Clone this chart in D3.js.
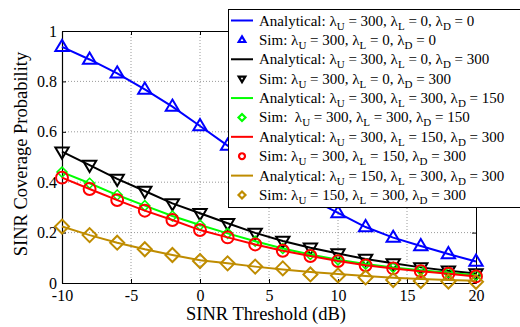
<!DOCTYPE html>
<html>
<head>
<meta charset="utf-8">
<script src="https://cdn.jsdelivr.net/npm/d3@7"></script>
<style>
  body { margin: 0; background: #fff; }
  #chart text { font-family: "Liberation Serif", "Times New Roman", serif; }
</style>
</head>
<body>
<svg id="chart" width="520" height="327"></svg>
<script>
// SINR threshold (dB)
var thresholds = [-10, -8, -6, -4, -2, 0, 2, 4, 6, 8, 10, 12, 14, 16, 18, 20];

// coverage probability per scenario (analytical curve + sim markers)
var blueVals  = [0.937, 0.887, 0.832, 0.768, 0.700, 0.623, 0.545, 0.470, 0.400, 0.335, 0.278, 0.222, 0.180, 0.147, 0.115, 0.085];
var blackVals = [0.521, 0.468, 0.413, 0.365, 0.316, 0.277, 0.237, 0.199, 0.167, 0.140, 0.117, 0.095, 0.078, 0.062, 0.049, 0.038];
var greenVals = [0.440, 0.396, 0.349, 0.307, 0.266, 0.230, 0.197, 0.166, 0.137, 0.113, 0.092, 0.075, 0.062, 0.051, 0.041, 0.031];
var redVals   = [0.418, 0.373, 0.329, 0.287, 0.250, 0.210, 0.181, 0.153, 0.128, 0.107, 0.087, 0.070, 0.058, 0.047, 0.037, 0.026];
var brownVals = [0.224, 0.190, 0.160, 0.134, 0.111, 0.090, 0.078, 0.065, 0.054, 0.044, 0.036, 0.028, 0.021, 0.016, 0.012, 0.009];
var brownSim  = [0.224, 0.190, 0.160, 0.134, 0.111, 0.087, 0.078, 0.065, 0.058, 0.034, 0.030, 0.022, 0.012, 0.008, 0.006, 0.005];

var xTicks = [-10, -5, 0, 5, 10, 15, 20];
var yTicks = [0, 0.2, 0.4, 0.6, 0.8, 1];

var series = [
  {color: "#0000ff", vals: blueVals,  sim: blueVals,  marker: "tri",  lam: ["300", "0", "0"],     simLam: ["300", "0", "0"]},
  {color: "#000000", vals: blackVals, sim: blackVals, marker: "itri", lam: ["300", "0", "300"],   simLam: ["300", "0", "300"]},
  {color: "#00ff00", vals: greenVals, sim: greenVals, marker: "dia",  lam: ["300", "300", "150"], simLam: ["300", "300", "150"], simPrefix: "Sim:  "},
  {color: "#ff0000", vals: redVals,   sim: redVals,   marker: "circ", lam: ["300", "150", "300"], simLam: ["300", "150", "300"]},
  {color: "#bf8c00", vals: brownVals, sim: brownSim,  marker: "bdia", lam: ["150", "300", "300"], simLam: ["150", "300", "300"]}
];

var FONT = "Liberation Serif";
var svg = d3.select("#chart");
var m = {left: 62, right: 476, top: 31, bottom: 283};

var x = d3.scaleLinear().domain([-10, 20]).range([m.left, m.right]);
var y = d3.scaleLinear().domain([0, 1]).range([m.bottom, m.top]);

// grid
svg.append("g")
  .selectAll("line")
  .data(xTicks.slice(1, -1))
  .join("line")
    .attr("x1", d => x(d)).attr("x2", d => x(d))
    .attr("y1", m.top).attr("y2", m.bottom)
    .attr("stroke", "#808080").attr("stroke-width", 0.8).attr("stroke-dasharray", "1,2");
svg.append("g")
  .selectAll("line")
  .data(yTicks.slice(1, -1))
  .join("line")
    .attr("x1", m.left).attr("x2", m.right)
    .attr("y1", d => y(d)).attr("y2", d => y(d))
    .attr("stroke", "#808080").attr("stroke-width", 0.8).attr("stroke-dasharray", "1,2");

// axes with inward ticks on all four sides
svg.append("g").attr("transform", `translate(0,${m.bottom})`)
  .call(d3.axisBottom(x).tickValues(xTicks).tickSizeInner(-4).tickSizeOuter(0).tickPadding(7).tickFormat(d => String(d)))
  .call(g => g.select(".domain").attr("stroke-width", 1.2))
  .call(g => g.selectAll("text").attr("font-size", 16).style("font-family", FONT).attr("fill", "#000"));
svg.append("g").attr("transform", `translate(${m.left},0)`)
  .call(d3.axisLeft(y).tickValues(yTicks).tickSizeInner(-4).tickSizeOuter(0).tickPadding(5).tickFormat(d => d === 0 || d === 1 ? String(d) : d3.format(".1f")(d)))
  .call(g => g.select(".domain").attr("stroke-width", 1.2))
  .call(g => g.selectAll("text").attr("font-size", 16).style("font-family", FONT).attr("fill", "#000"));
svg.append("g").attr("transform", `translate(0,${m.top})`)
  .call(d3.axisTop(x).tickValues(xTicks).tickSizeInner(-4).tickSizeOuter(0).tickFormat(""));
svg.append("g").attr("transform", `translate(${m.right},0)`)
  .call(d3.axisRight(y).tickValues(yTicks).tickSizeInner(-4).tickSizeOuter(0).tickFormat(""));

// axis titles
svg.append("text")
  .attr("x", 266).attr("y", 320)
  .attr("text-anchor", "middle").attr("font-size", 18.5).style("font-family", FONT)
  .text("SINR Threshold (dB)");
svg.append("text")
  .attr("transform", `translate(27,154) rotate(-90)`)
  .attr("text-anchor", "middle").attr("font-size", 18.5).style("font-family", FONT)
  .text("SINR Coverage Probability");

function drawMarker(g, type, color, size) {
  var s = size;
  if (type === "tri") {
    g.append("path").attr("d", `M0,${-s}L${s * 0.95},${s * 0.6}L${-s * 0.95},${s * 0.6}Z`);
  } else if (type === "itri") {
    g.append("path").attr("d", `M0,${s}L${s * 0.95},${-s * 0.6}L${-s * 0.95},${-s * 0.6}Z`);
  } else if (type === "circ") {
    g.append("circle").attr("r", s * 0.85);
  } else {
    g.append("path").attr("d", `M0,${-s}L${s},0L0,${s}L${-s},0Z`);
  }
  g.selectAll("path,circle").attr("fill", "none").attr("stroke", color);
}

var line = d3.line().x((d, i) => x(thresholds[i])).y(d => y(d));
var markerSize = {tri: 7, itri: 7, dia: 5, circ: 7, bdia: 7};

series.forEach(s => {
  svg.append("path")
    .datum(s.vals)
    .attr("d", line)
    .attr("fill", "none").attr("stroke", s.color).attr("stroke-width", 2);
  svg.append("g")
    .selectAll("g")
    .data(s.sim)
    .join("g")
      .attr("transform", (d, i) => `translate(${x(thresholds[i])},${y(d)})`)
      .each(function () {
        drawMarker(d3.select(this), s.marker, s.color, markerSize[s.marker]);
      })
      .selectAll("path,circle").attr("stroke-width", s.marker === "dia" ? 1.5 : 2);
});

// legend
var lg = svg.append("g");
lg.append("rect")
  .attr("x", 228.5).attr("y", 9.5).attr("width", 320).attr("height", 198)
  .attr("fill", "#fff").attr("stroke", "#000").attr("stroke-width", 1);

var rows = [];
series.forEach(s => {
  rows.push({kind: "line", s: s, prefix: "Analytical: ", lam: s.lam});
  rows.push({kind: "sim", s: s, prefix: s.simPrefix || "Sim: ", lam: s.simLam});
});

var rowY = d3.scaleLinear().domain([0, rows.length - 1]).range([20.5, 195]);

rows.forEach((r, i) => {
  var cy = rowY(i);
  if (r.kind === "line") {
    lg.append("line").attr("x1", 231).attr("x2", 253).attr("y1", cy).attr("y2", cy)
      .attr("stroke", r.s.color).attr("stroke-width", 2);
  } else {
    var mg = lg.append("g").attr("transform", `translate(242,${cy})`);
    drawMarker(mg, r.s.marker, r.s.color, 3.5);
    mg.selectAll("path,circle").attr("stroke-width", 2.2);
  }
  var txt = lg.append("text").attr("x", 259).attr("y", cy + 5).attr("font-size", 15)
    .style("font-family", FONT).style("white-space", "pre");
  var subs = ["U", "L", "D"];
  txt.append("tspan").text(r.prefix);
  subs.forEach((sub, k) => {
    txt.append("tspan").text("\u03bb");
    txt.append("tspan").attr("dy", 4).attr("font-size", 11).text(sub);
    txt.append("tspan").attr("dy", -4).text(" = " + r.lam[k] + (k < 2 ? ", " : ""));
  });
});
</script>
</body>
</html>
